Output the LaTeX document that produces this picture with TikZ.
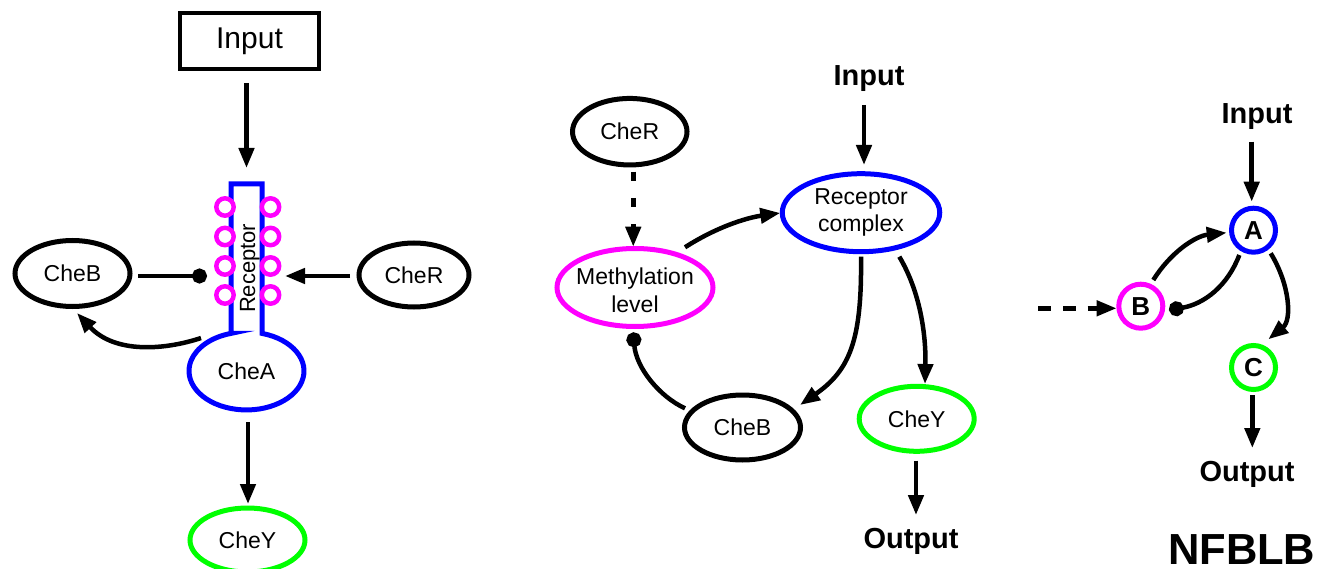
\documentclass[tikz,border=0pt]{standalone}
\usepackage{fontspec}
\setmainfont{Liberation Sans}
\usetikzlibrary{arrows.meta,shapes.geometric,calc}
\definecolor{cblue}{RGB}{0,0,255}
\definecolor{cmag}{RGB}{255,0,255}
\definecolor{cgreen}{RGB}{0,255,0}
\begin{document}
\begin{tikzpicture}[x=1pt,y=-1pt,
  every node/.style={inner sep=0pt, outer sep=0pt},
  ell/.style={draw, ellipse, line width=5pt, font=\fontsize{23}{27}\selectfont, align=center},
  arr/.style={line width=4.5pt, -{Triangle[length=20pt,width=15pt]}},
  inh/.style={line width=4.5pt, -{Circle[length=15pt]}},
  boldlbl/.style={font=\bfseries\fontsize{29}{34}\selectfont, anchor=base},
  letterc/.style={circle, draw, line width=5pt, minimum size=44pt, font=\bfseries\fontsize{26}{30}\selectfont},
  mcirc/.style={circle, draw=cmag, fill=white, line width=4.5pt, minimum size=17.4pt},
  recline/.style={draw=cblue, line width=5pt, line join=miter}
]
\useasboundingbox (0,0) rectangle (1317,569);

% ---------------- Left panel ----------------
\node[draw, line width=4.5pt, minimum width=139pt, minimum height=56pt,
      font=\fontsize{30}{36}\selectfont] (inL) at (249.5,41) {Input};
\node[minimum width=31pt, minimum height=149.4pt] (rec) at (246.5,258.7) {};
\draw[recline] (231,333.4) -- (231,184) -- (262,184) -- (262,333.4)
   arc[start angle=-74.36, end angle=254.36, x radius=57.5, y radius=39] -- cycle;
\node[ellipse, minimum width=115pt, minimum height=78pt, font=\fontsize{23}{27}\selectfont] (cheA) at (246.5,371) {CheA};
\foreach \yy [count=\i] in {207,236.5,266,295} {
  \node[mcirc] (mL\i) at (225,\yy) {};
  \node[mcirc] (mR\i) at (270.5,\yy) {};
}
\node[rotate=90, anchor=base, font=\fontsize{22}{26}\selectfont] (recT) at (255,268.3) {Receptor};

\node[ell, minimum width=115pt, minimum height=66pt] (cheBL) at (72.5,273.5) {CheB};
\node[ell, minimum width=110pt, minimum height=64pt] (cheRL) at (414,275) {CheR};
\node[ell, draw=cgreen, minimum width=115pt, minimum height=64pt] (cheYL) at (247.5,540) {CheY};

\draw[arr, shorten <=14pt, shorten >=16pt] (inL.south -| rec.north) -- (rec.north);
\draw[inh, shorten <=8pt, shorten >=24pt] ([yshift=-2.5pt]cheBL.east) -- ([yshift=-2.5pt]cheBL.east -| rec.west);
\draw[arr, shorten <=9pt, shorten >=23pt] ([yshift=-1pt]cheRL.west) -- ([yshift=-1pt]cheRL.west -| rec.east);
\draw[arr] ($(cheA)+(-45.5,-33)$) .. controls (165,350) and (115,354) .. ($(cheBL)+(4.5,39.5)$);
\draw[arr, shorten <=12pt, shorten >=4pt] ([xshift=1.5pt]cheA.south) -- ([xshift=1.5pt]cheA.south |- cheYL.north);

% ---------------- Middle panel ----------------
\node[boldlbl] (inM) at (869,86) {Input};
\node[ell, minimum width=114.5pt, minimum height=66.5pt] (cheRM) at (629.75,131.7) {CheR};
\node[ell, draw=cmag, minimum width=156pt, minimum height=78pt] (meth) at (635,287.5) {};
\node[font=\fontsize{23}{28}\selectfont, align=center] (methT) at (635,290.7) {Methylation\\level};
\node[ell, draw=cblue, minimum width=157.5pt, minimum height=78pt] (recC) at (861,212.7) {Receptor\\complex};
\node[ell, minimum width=116pt, minimum height=65pt] (cheBM) at (742.5,427.5) {CheB};
\node[ell, draw=cgreen, minimum width=115pt, minimum height=65pt] (cheYM) at (916.7,418.8) {CheY};
\node[boldlbl] (outM) at (911,548.3) {Output};

\draw[arr, shorten <=12.9pt, shorten >=8.7pt] ([xshift=3pt]recC.north |- inM.south) -- ([xshift=3pt]recC.north);
\draw[arr, dash pattern=on 9.5pt off 16.7pt, shorten <=6.75pt, shorten >=1.8pt]
   ([xshift=3.5pt]cheRM.south) -- ([xshift=3.5pt]cheRM.south |- meth.north);
\draw[arr, shorten >=2pt] ($(meth)+(50,-40.2)$) .. controls (715,228) and (745,218) .. (recC.west);
\draw[arr] ($(recC)+(0,44)$) .. controls (862,340) and (850,370) .. ($(cheBM)+(57.5,-22.5)$);
\draw[arr] ($(recC)+(38.3,44)$) .. controls (922,295) and (926,340) .. ($(cheYM)+(8.3,-34.8)$);
\draw[inh] ($(cheBM)+(-57.5,-19.2)$) .. controls (660,397) and (636,368) .. ($(meth)+(-1.7,44.8)$);
\draw[arr, shorten <=9.4pt, shorten >=13pt] ([xshift=-0.7pt]cheYM.south) -- ([xshift=-0.7pt]cheYM.south |- outM.north);

% ---------------- Right panel ----------------
\node[boldlbl] (inR) at (1257,123.3) {Input};
\node[letterc, draw=cblue] (nA) at (1253.5,230.2) {A};
\node[letterc, draw=cmag] (nB) at (1140.8,306.2) {B};
\node[letterc, draw=cgreen] (nC) at (1253.5,367.5) {C};
\node[boldlbl] (outR) at (1247,481.7) {Output};
\node[anchor=base, font=\bfseries\fontsize{43.5}{50}\selectfont] (title) at (1241.7,564) {NFBLB};

\draw[arr, shorten <=12.3pt, shorten >=6.5pt] ([xshift=-1.8pt]nA.north |- inR.south) -- ([xshift=-1.8pt]nA.north);
\draw[arr, dash pattern=on 13pt off 11.7pt, shorten >=2.2pt] ([xshift=-80.5pt, yshift=-2.1pt]nB.west) -- ([yshift=-2.1pt]nB.west);
\draw[arr] ($(nB)+(12.5,-26.2)$) .. controls (1170,253) and (1195,236) .. ($(nA)+(-26.8,2.5)$);
\draw[inh] ($(nA)+(-14.2,24.8)$) .. controls (1228,285) and (1205,304) .. ($(nB)+(28.2,3.8)$);
\draw[arr] ($(nA)+(17.2,23.1)$) .. controls (1290,285) and (1292,320) .. ($(nC)+(14.8,-28.2)$);
\draw[arr, shorten <=5.5pt, shorten >=13.4pt] ([xshift=-1.2pt]nC.south) -- ([xshift=-1.2pt]nC.south |- outR.north);
\end{tikzpicture}
\end{document}
